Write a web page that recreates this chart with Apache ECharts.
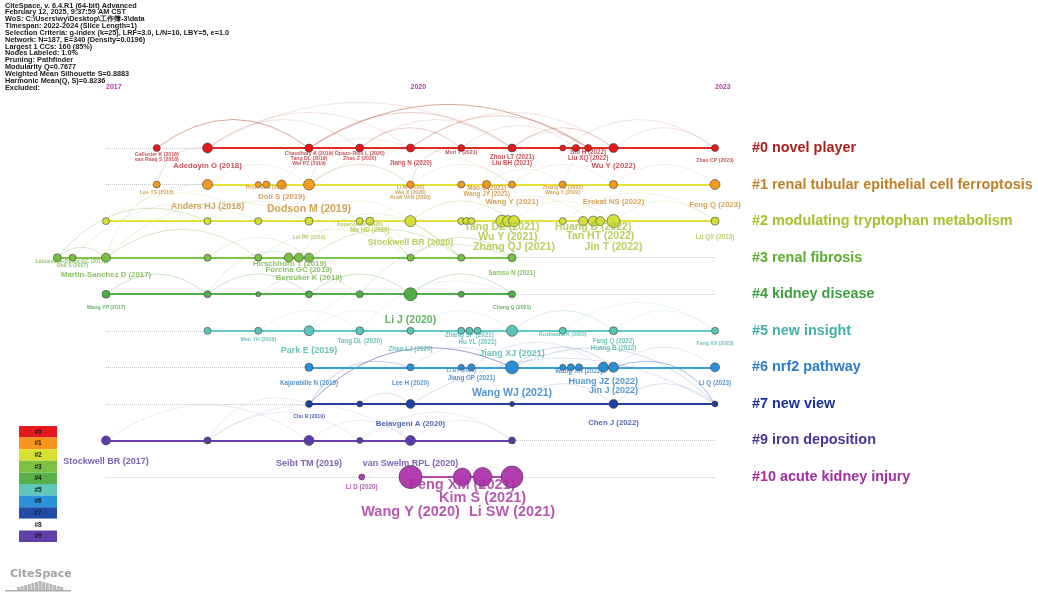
<!DOCTYPE html>
<html>
<head>
<meta charset="utf-8">
<script src="https://cdn.jsdelivr.net/npm/echarts@6/dist/echarts.min.js"></script>
<style>
html, body { margin: 0; padding: 0; background: #fff; }
#main { width: 1038px; height: 600px; }
</style>
</head>
<body>
<div id="main"></div>
<script>
// timeline ticks and clusters
var tickYears = [2017, 2020, 2023];
var clusterIds = ['#0', '#1', '#2', '#3', '#4', '#5', '#6', '#7', '#9', '#10'];
var clusterNames = ['novel player', 'renal tubular epithelial cell ferroptosis', 'modulating tryptophan metabolism',
  'renal fibrosis', 'kidney disease', 'new insight', 'nrf2 pathway', 'new view', 'iron deposition', 'acute kidney injury'];
var clusterSpans = [[2018, 2023], [2018, 2023], [2017, 2023], [2016.52, 2021], [2017, 2021],
  [2018, 2023], [2019, 2023], [2019, 2023], [2017, 2021], [2020, 2021]];

// nodes per cluster: [year, citation weight]
var nodes0 = [[2017.5, 3], [2018, 6], [2019, 4], [2019.5, 4], [2020, 4], [2020.5, 3], [2021, 4], [2021.5, 2], [2021.63, 3], [2021.75, 3], [2022, 5], [2023, 3]];
var nodes1 = [[2017.5, 3], [2018, 6], [2018.5, 2], [2018.58, 3], [2018.73, 5], [2019, 7], [2020, 3], [2020.5, 3], [2020.75, 4], [2021, 3], [2021.5, 3], [2022, 4], [2023, 6]];
var nodes2 = [[2017, 3], [2018, 3], [2018.5, 3], [2019, 4], [2019.5, 3], [2019.6, 4], [2020, 7], [2020.5, 3], [2020.55, 3], [2020.6, 3], [2020.9, 8], [2020.96, 7], [2021.02, 7], [2021.5, 3], [2021.7, 5], [2021.8, 6], [2021.87, 5], [2022, 9], [2023, 4]];
var nodes3 = [[2016.52, 4], [2016.67, 3], [2017, 5], [2018, 3], [2018.5, 3], [2018.8, 5], [2018.9, 5], [2019, 5], [2020, 3], [2020.5, 3], [2021, 4]];
var nodes4 = [[2017, 4], [2018, 3], [2018.5, 1], [2019, 3], [2019.5, 3], [2020, 9], [2020.5, 2], [2021, 3]];
var nodes5 = [[2018, 3], [2018.5, 3], [2019, 6], [2019.5, 4], [2020, 3], [2020.5, 3], [2020.58, 3], [2020.66, 3], [2021, 7], [2021.5, 3], [2022, 4], [2023, 3]];
var nodes6 = [[2019, 4], [2020, 3], [2020.5, 2], [2020.6, 3], [2021, 9], [2021.5, 2], [2021.58, 3], [2021.66, 3], [2021.9, 6], [2022, 6], [2023, 5]];
var nodes7 = [[2019, 3], [2019.5, 2], [2020, 5], [2021, 1], [2022, 5], [2023, 2]];
var nodes9 = [[2017, 5], [2018, 3], [2019, 6], [2019.5, 2], [2020, 6], [2021, 3]];
var nodes10 = [[2019.52, 2], [2020, 19], [2020.51, 14], [2020.71, 15], [2021, 18]];
var clusterNodes = [nodes0, nodes1, nodes2, nodes3, nodes4, nodes5, nodes6, nodes7, nodes9, nodes10];

// node labels: [row, year, text, size rank, stacking offset]
var labels = [
  [0, 2017.5, 'Gallusier K (2018)', 0, 7], [0, 2017.5, 'van Raaij S (2018)', 0, 12], [0, 2018, 'Adedoyin O (2018)', 2, 18],
  [0, 2019, 'Chaudhary K (2019)', 0, 6], [0, 2019, 'Tang DL (2019)', 0, 11], [0, 2019, 'Wei PZ (2019)', 0, 16],
  [0, 2019.5, 'Opazo-Rios L (2020)', 0, 6], [0, 2019.5, 'Zhao Z (2020)', 0, 11], [0, 2020, 'Jiang N (2020)', 1, 15],
  [0, 2020.5, 'Mori T (2021)', 0, 5], [0, 2021, 'Zhou LT (2021)', 1, 9], [0, 2021, 'Liu BH (2021)', 1, 15],
  [0, 2021.75, 'Shi H (2022)', 1, 4], [0, 2021.75, 'Liu XQ (2022)', 1, 10], [0, 2022, 'Wu Y (2022)', 2, 18],
  [0, 2023, 'Zhao CP (2023)', 0, 13],
  [1, 2017.5, 'Lee YS (2018)', 0, 8], [1, 2018, 'Anders HJ (2018)', 3, 22], [1, 2018.58, 'Proneth B (2019)', 0, 3],
  [1, 2018.73, 'Doll S (2019)', 2, 12], [1, 2019, 'Dodson M (2019)', 4, 25], [1, 2020, 'Li W (2020)', 0, 3],
  [1, 2020, 'Wei X (2020)', 0, 8], [1, 2020, 'Kraft VAN (2020)', 0, 13], [1, 2020.75, 'Mao C (2021)', 1, 4],
  [1, 2020.75, 'Wang JY (2021)', 1, 10], [1, 2021, 'Wang Y (2021)', 2, 17], [1, 2021.5, 'Zhang HZ (2022)', 0, 3],
  [1, 2021.5, 'Wang Y (2022)', 0, 8], [1, 2022, 'Erekat NS (2022)', 2, 17], [1, 2023, 'Feng Q (2023)', 2, 20],
  [2, 2019, 'Lei PR (2019)', 0, 16], [2, 2019.5, 'Appenzeller (2020)', 0, 3], [2, 2019.6, 'Ma HD (2020)', 1, 9],
  [2, 2020, 'Stockwell BR (2020)', 3, 21], [2, 2020.9, 'Tang DE (2021)', 4, 6], [2, 2020.96, 'Wu Y (2021)', 4, 16],
  [2, 2021.02, 'Zhang QJ (2021)', 4, 26], [2, 2021.8, 'Huang D (2022)', 4, 6], [2, 2021.87, 'Tan HT (2022)', 4, 15],
  [2, 2022, 'Jin T (2022)', 4, 26], [2, 2023, 'Lu QY (2023)', 1, 16],
  [3, 2016.65, 'Labussiere-Oudot GC (2017)', 0, 4], [3, 2016.67, 'Doll S (2017)', 0, 8], [3, 2017, 'Martin-Sanchez D (2017)', 2, 17],
  [3, 2018.81, 'Hirschhorn T (2019)', 2, 6], [3, 2018.9, 'Forcina GC (2019)', 2, 12], [3, 2019, 'Bersuker K (2019)', 2, 20],
  [3, 2021, 'Samsu N (2021)', 1, 16],
  [4, 2017, 'Wang YP (2017)', 0, 13], [4, 2020, 'Li J (2020)', 4, 26], [4, 2021, 'Cheng Q (2021)', 0, 13],
  [5, 2018.5, 'Mou YH (2019)', 0, 9], [5, 2019, 'Park E (2019)', 3, 20], [5, 2019.5, 'Tang DL (2020)', 1, 10],
  [5, 2020, 'Zhao LJ (2020)', 1, 18], [5, 2020.58, 'Zhang SP (2021)', 1, 4], [5, 2020.66, 'Hu YL (2021)', 1, 11],
  [5, 2021, 'Jiang XJ (2021)', 3, 23], [5, 2021.5, 'Kushwaha K (2022)', 0, 4], [5, 2022, 'Fang Q (2022)', 1, 10],
  [5, 2022, 'Huang B (2022)', 1, 17], [5, 2023, 'Fang XX (2023)', 0, 13],
  [6, 2019, 'Kajarabille N (2019)', 1, 16], [6, 2020, 'Lee H (2020)', 1, 16], [6, 2020.5, 'Li BY (2021)', 0, 3],
  [6, 2020.6, 'Jiang GP (2021)', 1, 11], [6, 2021, 'Wang WJ (2021)', 4, 26], [6, 2021.66, 'Wang XH (2022)', 1, 4],
  [6, 2021.9, 'Huang JZ (2022)', 3, 14], [6, 2022, 'Jin J (2022)', 3, 23], [6, 2023, 'Li Q (2023)', 1, 16],
  [7, 2019, 'Chu B (2019)', 0, 13], [7, 2020, 'Belavgeni A (2020)', 2, 20], [7, 2022, 'Chen J (2022)', 2, 19],
  [8, 2017, 'Stockwell BR (2017)', 3, 21], [8, 2019, 'Seibt TM (2019)', 3, 23], [8, 2020, 'van Swelm RPL (2020)', 3, 23],
  [9, 2019.52, 'Li D (2020)', 1, 10], [9, 2020.51, 'Feng XM (2021)', 5, 8], [9, 2020.71, 'Kim S (2021)', 5, 21],
  [9, 2020, 'Wang Y (2020)', 5, 35], [9, 2021, 'Li SW (2021)', 5, 35]
];

// co-citation links: [row1, year1, row2, year2, strength, bend]
var links = [
  [0, 2017.5, 0, 2019, 3], [0, 2018, 0, 2020, 1], [0, 2018, 0, 2021, 1], [0, 2019, 0, 2021, 2], [0, 2019, 0, 2021.75, 3],
  [0, 2019.5, 0, 2020.5, 2], [0, 2019.5, 0, 2021, 1], [0, 2020, 0, 2022, 1], [0, 2020.5, 0, 2021.63, 1], [0, 2021, 0, 2022, 2],
  [0, 2021, 0, 2021.75, 1], [0, 2021.5, 0, 2023, 1], [0, 2022, 0, 2023, 1], [0, 2018, 0, 2019.5, 1], [0, 2020, 0, 2021.75, 2],
  [1, 2017.5, 0, 2018, 2], [1, 2019, 0, 2019.5, 2], [1, 2018.73, 0, 2020, 1], [1, 2020, 0, 2020.5, 2], [1, 2020.75, 0, 2021, 1],
  [1, 2021.5, 0, 2022, 1],
  [1, 2018, 1, 2019, 1], [1, 2019, 1, 2020, 2], [1, 2019, 1, 2021, 1], [1, 2020, 1, 2021, 1], [1, 2021, 1, 2022, 1],
  [1, 2022, 1, 2023, 1], [1, 2020.75, 1, 2021.5, 1],
  [2, 2017, 2, 2018.5, 1], [2, 2018, 2, 2019, 1], [2, 2019, 2, 2020, 1], [2, 2020, 2, 2021, 2], [2, 2021, 2, 2022, 1],
  [2, 2021.5, 2, 2023, 1], [2, 2020.5, 2, 2021.8, 1], [2, 2022, 2, 2023, 1],
  [3, 2016.52, 2, 2018, 2], [3, 2016.67, 2, 2018.5, 1], [3, 2017, 1, 2018, 1], [3, 2016.52, 3, 2017, 2], [3, 2017, 2, 2019, 1],
  [2, 2019.6, 3, 2020, 3, 0.05], [2, 2020, 3, 2020.5, 3, 0.05],
  [3, 2017, 3, 2018.5, 2], [3, 2018, 3, 2019, 1], [3, 2018.5, 3, 2020, 1], [3, 2019, 3, 2020.5, 2], [3, 2020, 3, 2021, 2],
  [3, 2018.9, 2, 2020, 1],
  [4, 2017, 4, 2018, 2], [4, 2018, 4, 2019, 2], [4, 2018.5, 4, 2019.5, 1], [4, 2019, 4, 2020, 2], [4, 2020, 4, 2021, 2],
  [4, 2019.5, 3, 2021, 1], [4, 2018, 3, 2019, 1],
  [5, 2018.5, 5, 2019.5, 1], [5, 2019, 5, 2020, 1], [5, 2020, 5, 2021, 1], [5, 2021, 5, 2022, 2], [5, 2021.5, 5, 2023, 1],
  [5, 2022, 5, 2023, 1], [5, 2019, 4, 2020, 1], [5, 2019.5, 4, 2021, 1],
  [7, 2019, 6, 2021, 3], [7, 2019, 6, 2020, 2], [6, 2020, 6, 2021, 1], [6, 2021, 6, 2022, 2], [6, 2020.6, 6, 2021.9, 1],
  [6, 2022, 6, 2023, 1], [6, 2021, 7, 2023, 2], [6, 2022, 7, 2023, 3],
  [7, 2020, 7, 2023, 1], [7, 2021, 7, 2022, 1], [7, 2019.5, 7, 2020, 1], [7, 2022, 7, 2023, 1], [8, 2018, 7, 2019, 1],
  [8, 2017, 8, 2019, 1], [8, 2018, 8, 2019.5, 1], [8, 2019, 8, 2020, 1], [8, 2019.5, 8, 2021, 1], [8, 2020, 8, 2021, 1],
  [8, 2018, 8, 2020, 1],
  [9, 2020, 9, 2020.51, 1], [9, 2020.51, 9, 2021, 1], [9, 2019.52, 9, 2020, 1]
];

var legendIds = ['#0', '#1', '#2', '#3', '#4', '#5', '#6', '#7', '#8', '#9'];
var headerLines = [
  'CiteSpace, v. 6.4.R1 (64-bit) Advanced',
  'February 12, 2025, 9:37:59 AM CST',
  'WoS: C:\\Users\\wy\\Desktop\\工作簿-3\\data',
  'Timespan: 2022-2024 (Slice Length=1)',
  'Selection Criteria: g-index (k=25), LRF=3.0, L/N=10, LBY=5, e=1.0',
  'Network: N=187, E=340 (Density=0.0196)',
  'Largest 1 CCs: 160 (85%)',
  'Nodes Labeled: 1.0%',
  'Pruning: Pathfinder',
  'Modularity Q=0.7677',
  'Weighted Mean Silhouette S=0.8883',
  'Harmonic Mean(Q, S)=0.8236',
  'Excluded:'
];

// styles
var nodeColors = ['#e3191b', '#f39a1f', '#d5df3b', '#78c040', '#4fae45', '#5cc5b9', '#2b8fd6', '#1e3f9e', '#5b3ba6', '#b23db0'];
var lineColors = ['#e02a22', '#e6e23a', '#e2e23a', '#7dc446', '#52b148', '#62c9c2', '#3ba0e2', '#2141a6', '#6a3fab', '#b444b2'];
var textColors = ['#b5282e', '#c98a2e', '#a9c23a', '#6db33f', '#3f9f3f', '#45b3a8', '#2a7cc4', '#233d9a', '#5a3a9e', '#a5309f'];
var titleColors = ['#a8201e', '#c0802a', '#a8c030', '#5cae2e', '#3d9e3d', '#40b0a8', '#2a7cc4', '#1e3296', '#4e3494', '#a0309e'];
var linkColors = ['#bc6a52', '#c09a62', '#b8c454', '#78b84e', '#5aa84e', '#88c4cc', '#6a88c4', '#5a5ab0', '#9a8cc4', '#c27ec0'];
var legendColors = ['#e41a1c', '#f7941d', '#d8e030', '#7cc142', '#56b046', '#5ec7b9', '#2b93d9', '#1f4da6', null, '#5f40a8'];
var levelSize = [5.2, 6.3, 7.8, 9, 10.5, 14.5];
var linkAlpha = [0, 0.18, 0.32, 0.6];
var FONT = 'Liberation Sans';

var chart = echarts.init(document.getElementById('main'));
var series = [];

series.push({
  type: 'lines', coordinateSystem: 'cartesian2d', z: 1, clip: false, silent: true,
  lineStyle: { width: 1 },
  data: links.map(function (l) {
    var span = Math.abs(l[3] - l[1]);
    var bend = l.length > 5 ? l[5] : Math.max(0.12, 0.45 - 0.05 * span);
    return {
      coords: [[l[1], l[0]], [l[3], l[2]]],
      lineStyle: { color: linkColors[l[0]], opacity: linkAlpha[l[4]], curveness: bend }
    };
  })
});

series.push({
  type: 'lines', coordinateSystem: 'cartesian2d', z: 2, clip: false, silent: true,
  lineStyle: { color: '#c8c8c8', width: 1, type: 'dotted', opacity: 1 },
  data: clusterIds.map(function (id, r) {
    return { coords: [[tickYears[0], r], [tickYears[tickYears.length - 1], r]] };
  })
});

series.push({
  type: 'lines', coordinateSystem: 'cartesian2d', z: 2, clip: false, silent: true,
  lineStyle: { width: 2, opacity: 1 },
  data: clusterSpans.map(function (s, r) {
    return { coords: [[s[0], r], [s[1], r]], lineStyle: { color: lineColors[r] } };
  })
});

clusterNodes.forEach(function (list, r) {
  series.push({
    type: 'scatter', z: 3, clip: false, silent: true,
    symbolSize: function (v) { return v[2] + 4; },
    itemStyle: { color: nodeColors[r], borderColor: 'rgba(60,60,60,0.85)', borderWidth: 0.7, opacity: 1 },
    data: list.map(function (n) { return [n[0], r, n[1]]; })
  });
});

series.push({
  type: 'scatter', z: 5, clip: false, silent: true, symbolSize: 1,
  itemStyle: { color: 'rgba(0,0,0,0)' },
  data: labels.map(function (l) {
    return {
      value: [l[1], l[0]],
      label: {
        show: true, position: 'inside', offset: [0, l[4]], formatter: l[2],
        fontSize: levelSize[l[3]], fontWeight: 'bold', fontFamily: FONT,
        color: textColors[l[0]], textBorderWidth: 0
      }
    };
  })
});

var rich = {};
titleColors.forEach(function (c, i) {
  rich['c' + i] = { color: c, fontSize: 14.4, fontWeight: 'bold', fontFamily: FONT };
});

var graphic = [{
  type: 'text', left: 5, top: 2,
  style: { text: headerLines.join('\n'), font: 'bold 7.3px "Liberation Sans"', lineHeight: 6.85, fill: '#1a1a1a' }
}];
legendIds.forEach(function (id, i) {
  var top = 426 + i * 11.6;
  graphic.push({ type: 'rect', shape: { x: 19, y: top, width: 38, height: 11.6 },
    style: { fill: legendColors[i] || '#ffffff' } });
  graphic.push({ type: 'text', x: 38, y: top + 6,
    style: { text: id, align: 'center', verticalAlign: 'middle', font: 'bold 6.5px "Liberation Sans"', fill: '#1a1a1a' } });
});
graphic.push({ type: 'text', x: 10, y: 574,
  style: { text: 'CiteSpace', verticalAlign: 'middle', font: 'bold 11px "DejaVu Sans"', fill: '#a3a3a3' } });
[3, 4, 5, 6, 7, 8, 9, 8, 7, 6, 5, 4, 3].forEach(function (h, i) {
  graphic.push({ type: 'rect', shape: { x: 17 + i * 3.6, y: 590 - h, width: 3, height: h },
    style: { fill: '#b8b8b8' } });
});
graphic.push({ type: 'rect', shape: { x: 5, y: 590, width: 66, height: 1.5 }, style: { fill: '#b0b0b0' } });

chart.setOption({
  animation: false,
  backgroundColor: '#ffffff',
  grid: { left: 106, right: 323, top: 148, bottom: 123 },
  xAxis: {
    type: 'value', min: tickYears[0], max: tickYears[tickYears.length - 1], interval: 3, position: 'top',
    axisLine: { show: false }, axisTick: { show: false }, splitLine: { show: false },
    axisLabel: { margin: 57, align: 'left', color: '#b43aa8', fontSize: 7, fontWeight: 'bold', fontFamily: FONT,
      formatter: function (v) { return String(v); } }
  },
  yAxis: {
    type: 'value', inverse: true, min: 0, max: clusterIds.length - 1, interval: 1, position: 'right',
    axisLine: { show: false }, axisTick: { show: false }, splitLine: { show: false },
    axisLabel: {
      margin: 37, rich: rich,
      formatter: function (v) { return '{c' + v + '|' + clusterIds[v] + ' ' + clusterNames[v] + '}'; }
    }
  },
  graphic: graphic,
  series: series
});
</script>
</body>
</html>
